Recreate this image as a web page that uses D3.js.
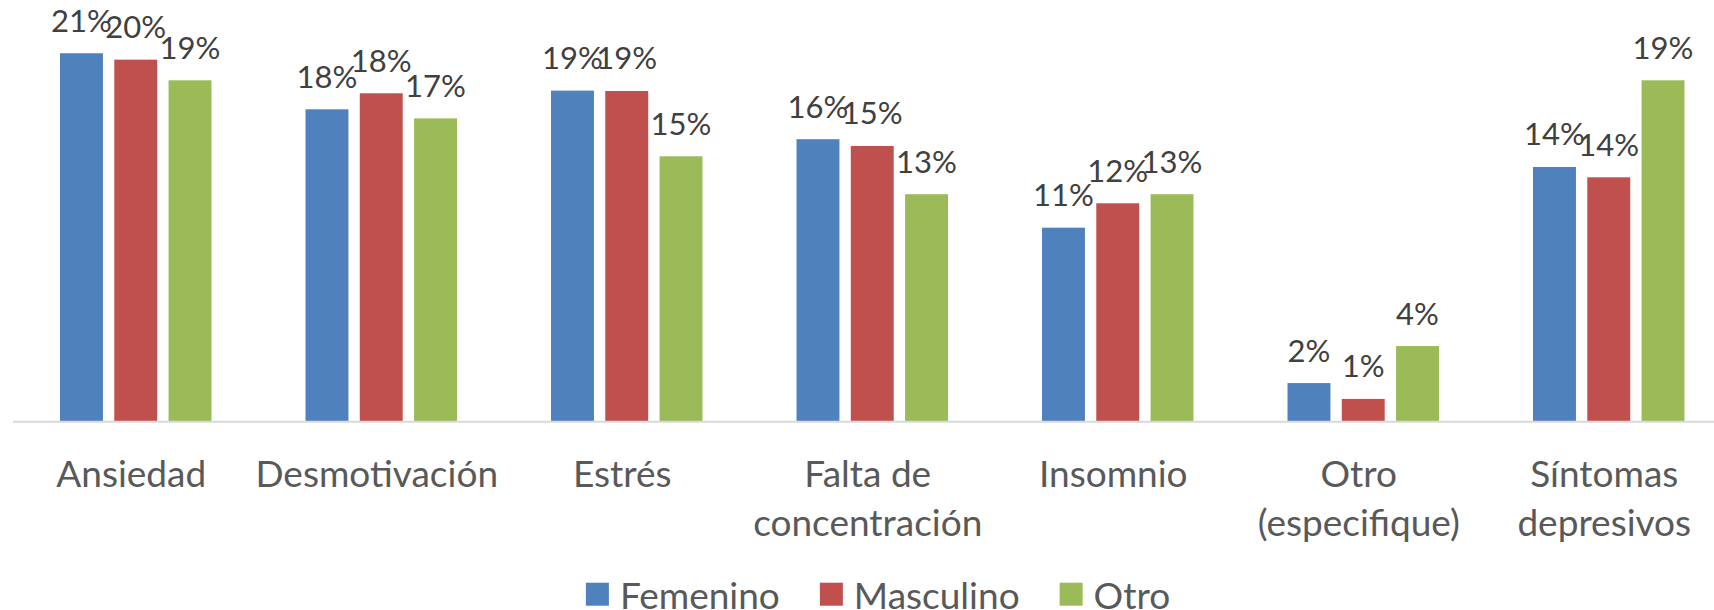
<!DOCTYPE html>
<html>
<head>
<meta charset="utf-8">
<script src="https://cdn.jsdelivr.net/npm/d3@7"></script>
<style>
  html, body { margin: 0; padding: 0; background: #fff; overflow: hidden; }
  svg text { font-family: Lato, "Open Sans", sans-serif; }
</style>
</head>
<body>
<svg id="chart" width="1714" height="610"></svg>
<script>
// data
const categories = ["Ansiedad", "Desmotivación", "Estrés", "Falta de concentración",
    "Insomnio", "Otro (especifique)", "Síntomas depresivos"];
const seriesNames = ["Femenino", "Masculino", "Otro"];
const femenino  = [0.207, 0.1755, 0.186, 0.1587, 0.109, 0.0217, 0.1431];
const masculino = [0.2034, 0.1845, 0.1858, 0.1549, 0.1227, 0.0128, 0.1373];
const otro      = [0.1918, 0.1704, 0.1491, 0.1278, 0.1278, 0.0425, 0.1918];
const seriesValues = [femenino, masculino, otro];
const colors = ["#4f81bd", "#c0504d", "#9bbb59"];

const svg = d3.select("#chart");
const baseY = 421.7;

// scales
const x = d3.scaleBand()
    .domain(categories)
    .range([13, 1731.5])
    .paddingInner(0.383)
    .paddingOuter(0.1915);

const xs = d3.scaleBand()
    .domain(seriesNames)
    .range([0, x.bandwidth()])
    .paddingInner(0.209);

const y = d3.scaleLinear()
    .domain([0, 0.22])
    .range([baseY, baseY - 22 * 17.8]);

const pct = d3.format(".0%");

// bars
const groups = svg.append("g").attr("class", "bars")
    .selectAll("g")
    .data(categories)
    .join("g")
    .attr("transform", (c) => `translate(${x(c)},0)`);

groups.selectAll("rect")
    .data((c, i) => seriesNames.map((s, j) => ({ s, j, v: seriesValues[j][i] })))
    .join("rect")
    .attr("x", (d) => xs(d.s))
    .attr("width", xs.bandwidth())
    .attr("y", (d) => y(d.v))
    .attr("height", (d) => baseY - y(d.v))
    .attr("fill", (d) => colors[d.j]);

// data labels
groups.selectAll("text")
    .data((c, i) => seriesNames.map((s, j) => ({ s, j, v: seriesValues[j][i] })))
    .join("text")
    .attr("x", (d) => xs(d.s) + xs.bandwidth() / 2)
    .attr("y", (d) => y(d.v) - 21.5)
    .attr("text-anchor", "middle")
    .attr("font-size", 31)
    .attr("fill", "#404040")
    .text((d) => pct(d.v));

// axis line
svg.append("line")
    .attr("x1", 13).attr("x2", 1714)
    .attr("y1", baseY).attr("y2", baseY)
    .attr("stroke", "#d9d9d9")
    .attr("stroke-width", 2);

// category labels, wrapped to the band step
const catLabels = svg.append("g").attr("class", "cat-labels")
    .selectAll("text")
    .data(categories)
    .join("text")
    .attr("text-anchor", "middle")
    .attr("font-size", 37)
    .attr("fill", "#595959")
    .attr("x", (c) => x(c) + x.bandwidth() / 2 - 4.5)
    .attr("y", 486.7);

catLabels.each(function (c) {
    const t = d3.select(this);
    const cx = +t.attr("x");
    const words = c.split(" ");
    let lines = [];
    let line = [];
    const probe = t.append("tspan");
    words.forEach((w) => {
        const test = line.concat(w).join(" ");
        probe.text(test);
        if (probe.node().getComputedTextLength() > x.step() - 10 && line.length) {
            lines.push(line.join(" "));
            line = [w];
        } else {
            line.push(w);
        }
    });
    lines.push(line.join(" "));
    probe.remove();
    lines.forEach((l, k) => {
        t.append("tspan")
            .attr("x", cx)
            .attr("dy", k === 0 ? 0 : 49.3)
            .text(l);
    });
});

// legend (runs off the bottom edge like the original)
const legend = svg.append("g").attr("class", "legend");
const items = legend.selectAll("g")
    .data(seriesNames)
    .join("g");

items.append("rect")
    .attr("width", 23)
    .attr("height", 23)
    .attr("y", 582.7)
    .attr("fill", (d, i) => colors[i]);

items.append("text")
    .attr("x", 34)
    .attr("y", 608.5)
    .attr("font-size", 37)
    .attr("fill", "#595959")
    .text((d) => d);

let offset = 0;
items.each(function () {
    const g = d3.select(this);
    g.attr("transform", `translate(${offset},0)`);
    offset += 34 + g.select("text").node().getComputedTextLength() + 40;
});
const legendWidth = offset - 40;
legend.attr("transform", `translate(${878 - legendWidth / 2},0)`);
</script>
</body>
</html>
